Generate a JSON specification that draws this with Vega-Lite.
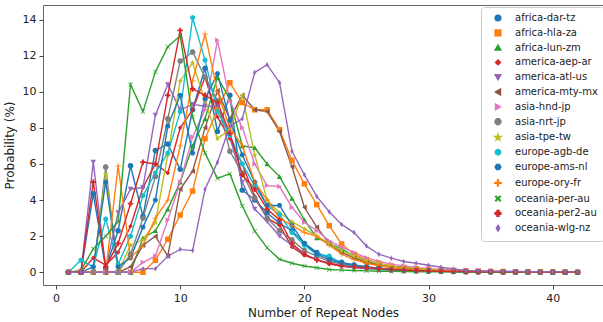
{
"$schema":"https://vega.github.io/schema/vega-lite/v6.json",
"width":560,"height":280,
"autosize":{"type":"none"},
"padding":{"left":43,"top":5,"right":0,"bottom":37},
"data":{"values":[
{"s":"africa-dar-tz","x":1,"y":0},{"s":"africa-dar-tz","x":2,"y":0},{"s":"africa-dar-tz","x":3,"y":4.35},{"s":"africa-dar-tz","x":4,"y":0.2},{"s":"africa-dar-tz","x":5,"y":2.3},{"s":"africa-dar-tz","x":6,"y":5.9},{"s":"africa-dar-tz","x":7,"y":3.1},{"s":"africa-dar-tz","x":8,"y":6.75},{"s":"africa-dar-tz","x":9,"y":7.1},{"s":"africa-dar-tz","x":10,"y":5.7},{"s":"africa-dar-tz","x":11,"y":9.0},{"s":"africa-dar-tz","x":12,"y":11.3},{"s":"africa-dar-tz","x":13,"y":7.8},{"s":"africa-dar-tz","x":14,"y":9.8},{"s":"africa-dar-tz","x":15,"y":4.55},{"s":"africa-dar-tz","x":16,"y":4.0},{"s":"africa-dar-tz","x":17,"y":3.3},{"s":"africa-dar-tz","x":18,"y":2.7},{"s":"africa-dar-tz","x":19,"y":2.3},{"s":"africa-dar-tz","x":20,"y":1.6},{"s":"africa-dar-tz","x":21,"y":1.1},{"s":"africa-dar-tz","x":22,"y":0.8},{"s":"africa-dar-tz","x":23,"y":0.55},{"s":"africa-dar-tz","x":24,"y":0.4},{"s":"africa-dar-tz","x":25,"y":0.3},{"s":"africa-dar-tz","x":26,"y":0.22},{"s":"africa-dar-tz","x":27,"y":0.17},{"s":"africa-dar-tz","x":28,"y":0.13},{"s":"africa-dar-tz","x":29,"y":0.1},{"s":"africa-dar-tz","x":30,"y":0.08},{"s":"africa-dar-tz","x":31,"y":0.06},{"s":"africa-dar-tz","x":32,"y":0.05},{"s":"africa-dar-tz","x":33,"y":0.04},{"s":"africa-dar-tz","x":34,"y":0.03},{"s":"africa-dar-tz","x":35,"y":0.03},{"s":"africa-dar-tz","x":36,"y":0.02},{"s":"africa-dar-tz","x":37,"y":0.02},{"s":"africa-dar-tz","x":38,"y":0.01},{"s":"africa-dar-tz","x":39,"y":0.01},{"s":"africa-dar-tz","x":40,"y":0.01},{"s":"africa-dar-tz","x":41,"y":0},{"s":"africa-dar-tz","x":42,"y":0},
{"s":"africa-hla-za","x":1,"y":0},{"s":"africa-hla-za","x":2,"y":0},{"s":"africa-hla-za","x":3,"y":0},{"s":"africa-hla-za","x":4,"y":0},{"s":"africa-hla-za","x":5,"y":0},{"s":"africa-hla-za","x":6,"y":0},{"s":"africa-hla-za","x":7,"y":0},{"s":"africa-hla-za","x":8,"y":0.67},{"s":"africa-hla-za","x":9,"y":1.83},{"s":"africa-hla-za","x":10,"y":3.17},{"s":"africa-hla-za","x":11,"y":4.5},{"s":"africa-hla-za","x":12,"y":7.4},{"s":"africa-hla-za","x":13,"y":9.0},{"s":"africa-hla-za","x":14,"y":10.5},{"s":"africa-hla-za","x":15,"y":9.4},{"s":"africa-hla-za","x":16,"y":9.0},{"s":"africa-hla-za","x":17,"y":9.0},{"s":"africa-hla-za","x":18,"y":7.9},{"s":"africa-hla-za","x":19,"y":6.2},{"s":"africa-hla-za","x":20,"y":4.9},{"s":"africa-hla-za","x":21,"y":3.75},{"s":"africa-hla-za","x":22,"y":2.58},{"s":"africa-hla-za","x":23,"y":1.57},{"s":"africa-hla-za","x":24,"y":1.0},{"s":"africa-hla-za","x":25,"y":0.7},{"s":"africa-hla-za","x":26,"y":0.5},{"s":"africa-hla-za","x":27,"y":0.35},{"s":"africa-hla-za","x":28,"y":0.27},{"s":"africa-hla-za","x":29,"y":0.2},{"s":"africa-hla-za","x":30,"y":0.15},{"s":"africa-hla-za","x":31,"y":0.12},{"s":"africa-hla-za","x":32,"y":0.1},{"s":"africa-hla-za","x":33,"y":0.08},{"s":"africa-hla-za","x":34,"y":0.06},{"s":"africa-hla-za","x":35,"y":0.05},{"s":"africa-hla-za","x":36,"y":0.04},{"s":"africa-hla-za","x":37,"y":0.03},{"s":"africa-hla-za","x":38,"y":0.02},{"s":"africa-hla-za","x":39,"y":0.02},{"s":"africa-hla-za","x":40,"y":0.01},{"s":"africa-hla-za","x":41,"y":0.01},{"s":"africa-hla-za","x":42,"y":0},
{"s":"africa-lun-zm","x":1,"y":0},{"s":"africa-lun-zm","x":2,"y":0},{"s":"africa-lun-zm","x":3,"y":0},{"s":"africa-lun-zm","x":4,"y":0},{"s":"africa-lun-zm","x":5,"y":0},{"s":"africa-lun-zm","x":6,"y":0},{"s":"africa-lun-zm","x":7,"y":1.9},{"s":"africa-lun-zm","x":8,"y":2.3},{"s":"africa-lun-zm","x":9,"y":3.5},{"s":"africa-lun-zm","x":10,"y":5.0},{"s":"africa-lun-zm","x":11,"y":7.0},{"s":"africa-lun-zm","x":12,"y":8.5},{"s":"africa-lun-zm","x":13,"y":10.8},{"s":"africa-lun-zm","x":14,"y":9.6},{"s":"africa-lun-zm","x":15,"y":7.0},{"s":"africa-lun-zm","x":16,"y":6.9},{"s":"africa-lun-zm","x":17,"y":6.0},{"s":"africa-lun-zm","x":18,"y":5.3},{"s":"africa-lun-zm","x":19,"y":4.1},{"s":"africa-lun-zm","x":20,"y":2.9},{"s":"africa-lun-zm","x":21,"y":1.9},{"s":"africa-lun-zm","x":22,"y":1.6},{"s":"africa-lun-zm","x":23,"y":1.3},{"s":"africa-lun-zm","x":24,"y":0.9},{"s":"africa-lun-zm","x":25,"y":0.6},{"s":"africa-lun-zm","x":26,"y":0.45},{"s":"africa-lun-zm","x":27,"y":0.33},{"s":"africa-lun-zm","x":28,"y":0.25},{"s":"africa-lun-zm","x":29,"y":0.2},{"s":"africa-lun-zm","x":30,"y":0.15},{"s":"africa-lun-zm","x":31,"y":0.12},{"s":"africa-lun-zm","x":32,"y":0.1},{"s":"africa-lun-zm","x":33,"y":0.08},{"s":"africa-lun-zm","x":34,"y":0.06},{"s":"africa-lun-zm","x":35,"y":0.05},{"s":"africa-lun-zm","x":36,"y":0.04},{"s":"africa-lun-zm","x":37,"y":0.03},{"s":"africa-lun-zm","x":38,"y":0.02},{"s":"africa-lun-zm","x":39,"y":0.02},{"s":"africa-lun-zm","x":40,"y":0.01},{"s":"africa-lun-zm","x":41,"y":0.01},{"s":"africa-lun-zm","x":42,"y":0},
{"s":"america-aep-ar","x":1,"y":0},{"s":"america-aep-ar","x":2,"y":0},{"s":"america-aep-ar","x":3,"y":0.8},{"s":"america-aep-ar","x":4,"y":0.4},{"s":"america-aep-ar","x":5,"y":1.1},{"s":"america-aep-ar","x":6,"y":2.55},{"s":"america-aep-ar","x":7,"y":4.7},{"s":"america-aep-ar","x":8,"y":6.0},{"s":"america-aep-ar","x":9,"y":5.5},{"s":"america-aep-ar","x":10,"y":8.0},{"s":"america-aep-ar","x":11,"y":9.0},{"s":"america-aep-ar","x":12,"y":10.8},{"s":"america-aep-ar","x":13,"y":8.6},{"s":"america-aep-ar","x":14,"y":7.4},{"s":"america-aep-ar","x":15,"y":6.0},{"s":"america-aep-ar","x":16,"y":4.2},{"s":"america-aep-ar","x":17,"y":3.0},{"s":"america-aep-ar","x":18,"y":2.6},{"s":"america-aep-ar","x":19,"y":1.4},{"s":"america-aep-ar","x":20,"y":0.94},{"s":"america-aep-ar","x":21,"y":0.7},{"s":"america-aep-ar","x":22,"y":0.45},{"s":"america-aep-ar","x":23,"y":0.35},{"s":"america-aep-ar","x":24,"y":0.28},{"s":"america-aep-ar","x":25,"y":0.22},{"s":"america-aep-ar","x":26,"y":0.17},{"s":"america-aep-ar","x":27,"y":0.13},{"s":"america-aep-ar","x":28,"y":0.1},{"s":"america-aep-ar","x":29,"y":0.08},{"s":"america-aep-ar","x":30,"y":0.06},{"s":"america-aep-ar","x":31,"y":0.05},{"s":"america-aep-ar","x":32,"y":0.04},{"s":"america-aep-ar","x":33,"y":0.03},{"s":"america-aep-ar","x":34,"y":0.03},{"s":"america-aep-ar","x":35,"y":0.02},{"s":"america-aep-ar","x":36,"y":0.02},{"s":"america-aep-ar","x":37,"y":0.01},{"s":"america-aep-ar","x":38,"y":0.01},{"s":"america-aep-ar","x":39,"y":0.01},{"s":"america-aep-ar","x":40,"y":0},{"s":"america-aep-ar","x":41,"y":0},{"s":"america-aep-ar","x":42,"y":0},
{"s":"america-atl-us","x":1,"y":0},{"s":"america-atl-us","x":2,"y":0},{"s":"america-atl-us","x":3,"y":6.1},{"s":"america-atl-us","x":4,"y":0.2},{"s":"america-atl-us","x":5,"y":3.3},{"s":"america-atl-us","x":6,"y":4.6},{"s":"america-atl-us","x":7,"y":4.7},{"s":"america-atl-us","x":8,"y":8.7},{"s":"america-atl-us","x":9,"y":10.4},{"s":"america-atl-us","x":10,"y":9.0},{"s":"america-atl-us","x":11,"y":9.3},{"s":"america-atl-us","x":12,"y":9.2},{"s":"america-atl-us","x":13,"y":9.2},{"s":"america-atl-us","x":14,"y":7.5},{"s":"america-atl-us","x":15,"y":5.0},{"s":"america-atl-us","x":16,"y":3.5},{"s":"america-atl-us","x":17,"y":2.8},{"s":"america-atl-us","x":18,"y":2.0},{"s":"america-atl-us","x":19,"y":1.5},{"s":"america-atl-us","x":20,"y":1.0},{"s":"america-atl-us","x":21,"y":0.7},{"s":"america-atl-us","x":22,"y":0.5},{"s":"america-atl-us","x":23,"y":0.35},{"s":"america-atl-us","x":24,"y":0.25},{"s":"america-atl-us","x":25,"y":0.2},{"s":"america-atl-us","x":26,"y":0.15},{"s":"america-atl-us","x":27,"y":0.12},{"s":"america-atl-us","x":28,"y":0.1},{"s":"america-atl-us","x":29,"y":0.08},{"s":"america-atl-us","x":30,"y":0.06},{"s":"america-atl-us","x":31,"y":0.05},{"s":"america-atl-us","x":32,"y":0.04},{"s":"america-atl-us","x":33,"y":0.03},{"s":"america-atl-us","x":34,"y":0.02},{"s":"america-atl-us","x":35,"y":0.02},{"s":"america-atl-us","x":36,"y":0.01},{"s":"america-atl-us","x":37,"y":0.01},{"s":"america-atl-us","x":38,"y":0.01},{"s":"america-atl-us","x":39,"y":0},{"s":"america-atl-us","x":40,"y":0},{"s":"america-atl-us","x":41,"y":0},{"s":"america-atl-us","x":42,"y":0},
{"s":"america-mty-mx","x":1,"y":0},{"s":"america-mty-mx","x":2,"y":0},{"s":"america-mty-mx","x":3,"y":0},{"s":"america-mty-mx","x":4,"y":0},{"s":"america-mty-mx","x":5,"y":0},{"s":"america-mty-mx","x":6,"y":0.3},{"s":"america-mty-mx","x":7,"y":1.5},{"s":"america-mty-mx","x":8,"y":2.0},{"s":"america-mty-mx","x":9,"y":0.9},{"s":"america-mty-mx","x":10,"y":4.6},{"s":"america-mty-mx","x":11,"y":5.6},{"s":"america-mty-mx","x":12,"y":8.0},{"s":"america-mty-mx","x":13,"y":10.05},{"s":"america-mty-mx","x":14,"y":8.5},{"s":"america-mty-mx","x":15,"y":9.8},{"s":"america-mty-mx","x":16,"y":9.0},{"s":"america-mty-mx","x":17,"y":8.9},{"s":"america-mty-mx","x":18,"y":7.8},{"s":"america-mty-mx","x":19,"y":5.85},{"s":"america-mty-mx","x":20,"y":3.6},{"s":"america-mty-mx","x":21,"y":2.5},{"s":"america-mty-mx","x":22,"y":1.6},{"s":"america-mty-mx","x":23,"y":1.1},{"s":"america-mty-mx","x":24,"y":0.8},{"s":"america-mty-mx","x":25,"y":0.55},{"s":"america-mty-mx","x":26,"y":0.38},{"s":"america-mty-mx","x":27,"y":0.27},{"s":"america-mty-mx","x":28,"y":0.2},{"s":"america-mty-mx","x":29,"y":0.15},{"s":"america-mty-mx","x":30,"y":0.11},{"s":"america-mty-mx","x":31,"y":0.09},{"s":"america-mty-mx","x":32,"y":0.07},{"s":"america-mty-mx","x":33,"y":0.05},{"s":"america-mty-mx","x":34,"y":0.04},{"s":"america-mty-mx","x":35,"y":0.03},{"s":"america-mty-mx","x":36,"y":0.02},{"s":"america-mty-mx","x":37,"y":0.02},{"s":"america-mty-mx","x":38,"y":0.01},{"s":"america-mty-mx","x":39,"y":0.01},{"s":"america-mty-mx","x":40,"y":0.01},{"s":"america-mty-mx","x":41,"y":0},{"s":"america-mty-mx","x":42,"y":0},
{"s":"asia-hnd-jp","x":1,"y":0},{"s":"asia-hnd-jp","x":2,"y":0},{"s":"asia-hnd-jp","x":3,"y":0},{"s":"asia-hnd-jp","x":4,"y":0},{"s":"asia-hnd-jp","x":5,"y":0},{"s":"asia-hnd-jp","x":6,"y":0},{"s":"asia-hnd-jp","x":7,"y":0.55},{"s":"asia-hnd-jp","x":8,"y":0.9},{"s":"asia-hnd-jp","x":9,"y":2.9},{"s":"asia-hnd-jp","x":10,"y":5.0},{"s":"asia-hnd-jp","x":11,"y":7.5},{"s":"asia-hnd-jp","x":12,"y":9.0},{"s":"asia-hnd-jp","x":13,"y":12.85},{"s":"asia-hnd-jp","x":14,"y":9.5},{"s":"asia-hnd-jp","x":15,"y":8.0},{"s":"asia-hnd-jp","x":16,"y":6.0},{"s":"asia-hnd-jp","x":17,"y":4.8},{"s":"asia-hnd-jp","x":18,"y":4.75},{"s":"asia-hnd-jp","x":19,"y":3.6},{"s":"asia-hnd-jp","x":20,"y":2.77},{"s":"asia-hnd-jp","x":21,"y":2.3},{"s":"asia-hnd-jp","x":22,"y":1.75},{"s":"asia-hnd-jp","x":23,"y":1.4},{"s":"asia-hnd-jp","x":24,"y":1.1},{"s":"asia-hnd-jp","x":25,"y":0.8},{"s":"asia-hnd-jp","x":26,"y":0.6},{"s":"asia-hnd-jp","x":27,"y":0.45},{"s":"asia-hnd-jp","x":28,"y":0.35},{"s":"asia-hnd-jp","x":29,"y":0.27},{"s":"asia-hnd-jp","x":30,"y":0.2},{"s":"asia-hnd-jp","x":31,"y":0.16},{"s":"asia-hnd-jp","x":32,"y":0.13},{"s":"asia-hnd-jp","x":33,"y":0.1},{"s":"asia-hnd-jp","x":34,"y":0.08},{"s":"asia-hnd-jp","x":35,"y":0.06},{"s":"asia-hnd-jp","x":36,"y":0.05},{"s":"asia-hnd-jp","x":37,"y":0.04},{"s":"asia-hnd-jp","x":38,"y":0.03},{"s":"asia-hnd-jp","x":39,"y":0.02},{"s":"asia-hnd-jp","x":40,"y":0.02},{"s":"asia-hnd-jp","x":41,"y":0.01},{"s":"asia-hnd-jp","x":42,"y":0.01},
{"s":"asia-nrt-jp","x":1,"y":0},{"s":"asia-nrt-jp","x":2,"y":0},{"s":"asia-nrt-jp","x":3,"y":0},{"s":"asia-nrt-jp","x":4,"y":5.83},{"s":"asia-nrt-jp","x":5,"y":0},{"s":"asia-nrt-jp","x":6,"y":1.0},{"s":"asia-nrt-jp","x":7,"y":3.0},{"s":"asia-nrt-jp","x":8,"y":5.3},{"s":"asia-nrt-jp","x":9,"y":8.5},{"s":"asia-nrt-jp","x":10,"y":11.7},{"s":"asia-nrt-jp","x":11,"y":12.2},{"s":"asia-nrt-jp","x":12,"y":10.8},{"s":"asia-nrt-jp","x":13,"y":9.5},{"s":"asia-nrt-jp","x":14,"y":6.7},{"s":"asia-nrt-jp","x":15,"y":5.5},{"s":"asia-nrt-jp","x":16,"y":4.1},{"s":"asia-nrt-jp","x":17,"y":3.0},{"s":"asia-nrt-jp","x":18,"y":2.3},{"s":"asia-nrt-jp","x":19,"y":1.8},{"s":"asia-nrt-jp","x":20,"y":1.2},{"s":"asia-nrt-jp","x":21,"y":0.9},{"s":"asia-nrt-jp","x":22,"y":0.6},{"s":"asia-nrt-jp","x":23,"y":0.45},{"s":"asia-nrt-jp","x":24,"y":0.33},{"s":"asia-nrt-jp","x":25,"y":0.25},{"s":"asia-nrt-jp","x":26,"y":0.18},{"s":"asia-nrt-jp","x":27,"y":0.13},{"s":"asia-nrt-jp","x":28,"y":0.1},{"s":"asia-nrt-jp","x":29,"y":0.08},{"s":"asia-nrt-jp","x":30,"y":0.06},{"s":"asia-nrt-jp","x":31,"y":0.05},{"s":"asia-nrt-jp","x":32,"y":0.04},{"s":"asia-nrt-jp","x":33,"y":0.03},{"s":"asia-nrt-jp","x":34,"y":0.02},{"s":"asia-nrt-jp","x":35,"y":0.02},{"s":"asia-nrt-jp","x":36,"y":0.01},{"s":"asia-nrt-jp","x":37,"y":0.01},{"s":"asia-nrt-jp","x":38,"y":0.01},{"s":"asia-nrt-jp","x":39,"y":0},{"s":"asia-nrt-jp","x":40,"y":0},{"s":"asia-nrt-jp","x":41,"y":0},{"s":"asia-nrt-jp","x":42,"y":0},
{"s":"asia-tpe-tw","x":1,"y":0},{"s":"asia-tpe-tw","x":2,"y":0},{"s":"asia-tpe-tw","x":3,"y":0},{"s":"asia-tpe-tw","x":4,"y":5.45},{"s":"asia-tpe-tw","x":5,"y":0},{"s":"asia-tpe-tw","x":6,"y":1.5},{"s":"asia-tpe-tw","x":7,"y":1.8},{"s":"asia-tpe-tw","x":8,"y":2.75},{"s":"asia-tpe-tw","x":9,"y":6.5},{"s":"asia-tpe-tw","x":10,"y":10.6},{"s":"asia-tpe-tw","x":11,"y":11.6},{"s":"asia-tpe-tw","x":12,"y":9.5},{"s":"asia-tpe-tw","x":13,"y":7.4},{"s":"asia-tpe-tw","x":14,"y":7.9},{"s":"asia-tpe-tw","x":15,"y":9.8},{"s":"asia-tpe-tw","x":16,"y":6.5},{"s":"asia-tpe-tw","x":17,"y":4.0},{"s":"asia-tpe-tw","x":18,"y":3.3},{"s":"asia-tpe-tw","x":19,"y":2.8},{"s":"asia-tpe-tw","x":20,"y":2.4},{"s":"asia-tpe-tw","x":21,"y":2.0},{"s":"asia-tpe-tw","x":22,"y":1.6},{"s":"asia-tpe-tw","x":23,"y":1.2},{"s":"asia-tpe-tw","x":24,"y":0.9},{"s":"asia-tpe-tw","x":25,"y":0.65},{"s":"asia-tpe-tw","x":26,"y":0.48},{"s":"asia-tpe-tw","x":27,"y":0.35},{"s":"asia-tpe-tw","x":28,"y":0.26},{"s":"asia-tpe-tw","x":29,"y":0.2},{"s":"asia-tpe-tw","x":30,"y":0.15},{"s":"asia-tpe-tw","x":31,"y":0.12},{"s":"asia-tpe-tw","x":32,"y":0.09},{"s":"asia-tpe-tw","x":33,"y":0.07},{"s":"asia-tpe-tw","x":34,"y":0.05},{"s":"asia-tpe-tw","x":35,"y":0.04},{"s":"asia-tpe-tw","x":36,"y":0.03},{"s":"asia-tpe-tw","x":37,"y":0.02},{"s":"asia-tpe-tw","x":38,"y":0.02},{"s":"asia-tpe-tw","x":39,"y":0.01},{"s":"asia-tpe-tw","x":40,"y":0.01},{"s":"asia-tpe-tw","x":41,"y":0.01},{"s":"asia-tpe-tw","x":42,"y":0},
{"s":"europe-agb-de","x":1,"y":0},{"s":"europe-agb-de","x":2,"y":0.67},{"s":"europe-agb-de","x":3,"y":0.3},{"s":"europe-agb-de","x":4,"y":2.95},{"s":"europe-agb-de","x":5,"y":0.44},{"s":"europe-agb-de","x":6,"y":2.0},{"s":"europe-agb-de","x":7,"y":4.25},{"s":"europe-agb-de","x":8,"y":5.5},{"s":"europe-agb-de","x":9,"y":6.6},{"s":"europe-agb-de","x":10,"y":8.9},{"s":"europe-agb-de","x":11,"y":14.1},{"s":"europe-agb-de","x":12,"y":11.75},{"s":"europe-agb-de","x":13,"y":8.9},{"s":"europe-agb-de","x":14,"y":7.6},{"s":"europe-agb-de","x":15,"y":6.0},{"s":"europe-agb-de","x":16,"y":4.8},{"s":"europe-agb-de","x":17,"y":3.7},{"s":"europe-agb-de","x":18,"y":3.2},{"s":"europe-agb-de","x":19,"y":2.2},{"s":"europe-agb-de","x":20,"y":1.5},{"s":"europe-agb-de","x":21,"y":1.0},{"s":"europe-agb-de","x":22,"y":0.9},{"s":"europe-agb-de","x":23,"y":0.5},{"s":"europe-agb-de","x":24,"y":0.35},{"s":"europe-agb-de","x":25,"y":0.25},{"s":"europe-agb-de","x":26,"y":0.18},{"s":"europe-agb-de","x":27,"y":0.13},{"s":"europe-agb-de","x":28,"y":0.1},{"s":"europe-agb-de","x":29,"y":0.08},{"s":"europe-agb-de","x":30,"y":0.06},{"s":"europe-agb-de","x":31,"y":0.05},{"s":"europe-agb-de","x":32,"y":0.04},{"s":"europe-agb-de","x":33,"y":0.03},{"s":"europe-agb-de","x":34,"y":0.02},{"s":"europe-agb-de","x":35,"y":0.02},{"s":"europe-agb-de","x":36,"y":0.01},{"s":"europe-agb-de","x":37,"y":0.01},{"s":"europe-agb-de","x":38,"y":0.01},{"s":"europe-agb-de","x":39,"y":0},{"s":"europe-agb-de","x":40,"y":0},{"s":"europe-agb-de","x":41,"y":0},{"s":"europe-agb-de","x":42,"y":0},
{"s":"europe-ams-nl","x":1,"y":0},{"s":"europe-ams-nl","x":2,"y":0},{"s":"europe-ams-nl","x":3,"y":0.3},{"s":"europe-ams-nl","x":4,"y":5.0},{"s":"europe-ams-nl","x":5,"y":0.3},{"s":"europe-ams-nl","x":6,"y":0.8},{"s":"europe-ams-nl","x":7,"y":2.5},{"s":"europe-ams-nl","x":8,"y":4.0},{"s":"europe-ams-nl","x":9,"y":8.1},{"s":"europe-ams-nl","x":10,"y":9.8},{"s":"europe-ams-nl","x":11,"y":6.6},{"s":"europe-ams-nl","x":12,"y":9.6},{"s":"europe-ams-nl","x":13,"y":11.0},{"s":"europe-ams-nl","x":14,"y":8.4},{"s":"europe-ams-nl","x":15,"y":6.5},{"s":"europe-ams-nl","x":16,"y":5.0},{"s":"europe-ams-nl","x":17,"y":3.7},{"s":"europe-ams-nl","x":18,"y":3.7},{"s":"europe-ams-nl","x":19,"y":2.6},{"s":"europe-ams-nl","x":20,"y":1.6},{"s":"europe-ams-nl","x":21,"y":1.0},{"s":"europe-ams-nl","x":22,"y":0.7},{"s":"europe-ams-nl","x":23,"y":0.5},{"s":"europe-ams-nl","x":24,"y":0.4},{"s":"europe-ams-nl","x":25,"y":0.3},{"s":"europe-ams-nl","x":26,"y":0.22},{"s":"europe-ams-nl","x":27,"y":0.16},{"s":"europe-ams-nl","x":28,"y":0.12},{"s":"europe-ams-nl","x":29,"y":0.1},{"s":"europe-ams-nl","x":30,"y":0.08},{"s":"europe-ams-nl","x":31,"y":0.06},{"s":"europe-ams-nl","x":32,"y":0.05},{"s":"europe-ams-nl","x":33,"y":0.04},{"s":"europe-ams-nl","x":34,"y":0.03},{"s":"europe-ams-nl","x":35,"y":0.02},{"s":"europe-ams-nl","x":36,"y":0.02},{"s":"europe-ams-nl","x":37,"y":0.01},{"s":"europe-ams-nl","x":38,"y":0.01},{"s":"europe-ams-nl","x":39,"y":0.01},{"s":"europe-ams-nl","x":40,"y":0},{"s":"europe-ams-nl","x":41,"y":0},{"s":"europe-ams-nl","x":42,"y":0},
{"s":"europe-ory-fr","x":1,"y":0},{"s":"europe-ory-fr","x":2,"y":0},{"s":"europe-ory-fr","x":3,"y":0},{"s":"europe-ory-fr","x":4,"y":0},{"s":"europe-ory-fr","x":5,"y":5.9},{"s":"europe-ory-fr","x":6,"y":0.8},{"s":"europe-ory-fr","x":7,"y":1.5},{"s":"europe-ory-fr","x":8,"y":3.0},{"s":"europe-ory-fr","x":9,"y":4.0},{"s":"europe-ory-fr","x":10,"y":7.0},{"s":"europe-ory-fr","x":11,"y":10.6},{"s":"europe-ory-fr","x":12,"y":13.2},{"s":"europe-ory-fr","x":13,"y":10.0},{"s":"europe-ory-fr","x":14,"y":8.0},{"s":"europe-ory-fr","x":15,"y":7.0},{"s":"europe-ory-fr","x":16,"y":5.0},{"s":"europe-ory-fr","x":17,"y":4.0},{"s":"europe-ory-fr","x":18,"y":3.0},{"s":"europe-ory-fr","x":19,"y":2.6},{"s":"europe-ory-fr","x":20,"y":2.2},{"s":"europe-ory-fr","x":21,"y":2.0},{"s":"europe-ory-fr","x":22,"y":1.5},{"s":"europe-ory-fr","x":23,"y":1.0},{"s":"europe-ory-fr","x":24,"y":0.7},{"s":"europe-ory-fr","x":25,"y":0.5},{"s":"europe-ory-fr","x":26,"y":0.36},{"s":"europe-ory-fr","x":27,"y":0.27},{"s":"europe-ory-fr","x":28,"y":0.2},{"s":"europe-ory-fr","x":29,"y":0.15},{"s":"europe-ory-fr","x":30,"y":0.11},{"s":"europe-ory-fr","x":31,"y":0.09},{"s":"europe-ory-fr","x":32,"y":0.07},{"s":"europe-ory-fr","x":33,"y":0.05},{"s":"europe-ory-fr","x":34,"y":0.04},{"s":"europe-ory-fr","x":35,"y":0.03},{"s":"europe-ory-fr","x":36,"y":0.02},{"s":"europe-ory-fr","x":37,"y":0.02},{"s":"europe-ory-fr","x":38,"y":0.01},{"s":"europe-ory-fr","x":39,"y":0.01},{"s":"europe-ory-fr","x":40,"y":0.01},{"s":"europe-ory-fr","x":41,"y":0},{"s":"europe-ory-fr","x":42,"y":0},
{"s":"oceania-per-au","x":1,"y":0},{"s":"oceania-per-au","x":2,"y":0.1},{"s":"oceania-per-au","x":3,"y":1.3},{"s":"oceania-per-au","x":4,"y":2.0},{"s":"oceania-per-au","x":5,"y":2.8},{"s":"oceania-per-au","x":6,"y":10.4},{"s":"oceania-per-au","x":7,"y":8.9},{"s":"oceania-per-au","x":8,"y":11.1},{"s":"oceania-per-au","x":9,"y":12.5},{"s":"oceania-per-au","x":10,"y":13.1},{"s":"oceania-per-au","x":11,"y":8.6},{"s":"oceania-per-au","x":12,"y":6.6},{"s":"oceania-per-au","x":13,"y":5.2},{"s":"oceania-per-au","x":14,"y":5.46},{"s":"oceania-per-au","x":15,"y":3.67},{"s":"oceania-per-au","x":16,"y":2.28},{"s":"oceania-per-au","x":17,"y":1.35},{"s":"oceania-per-au","x":18,"y":0.72},{"s":"oceania-per-au","x":19,"y":0.5},{"s":"oceania-per-au","x":20,"y":0.35},{"s":"oceania-per-au","x":21,"y":0.25},{"s":"oceania-per-au","x":22,"y":0.15},{"s":"oceania-per-au","x":23,"y":0.12},{"s":"oceania-per-au","x":24,"y":0.1},{"s":"oceania-per-au","x":25,"y":0.08},{"s":"oceania-per-au","x":26,"y":0.06},{"s":"oceania-per-au","x":27,"y":0.05},{"s":"oceania-per-au","x":28,"y":0.04},{"s":"oceania-per-au","x":29,"y":0.03},{"s":"oceania-per-au","x":30,"y":0.03},{"s":"oceania-per-au","x":31,"y":0.02},{"s":"oceania-per-au","x":32,"y":0.02},{"s":"oceania-per-au","x":33,"y":0.01},{"s":"oceania-per-au","x":34,"y":0.01},{"s":"oceania-per-au","x":35,"y":0.01},{"s":"oceania-per-au","x":36,"y":0.01},{"s":"oceania-per-au","x":37,"y":0},{"s":"oceania-per-au","x":38,"y":0},{"s":"oceania-per-au","x":39,"y":0},{"s":"oceania-per-au","x":40,"y":0},{"s":"oceania-per-au","x":41,"y":0},{"s":"oceania-per-au","x":42,"y":0},
{"s":"oceania-per2-au","x":1,"y":0},{"s":"oceania-per2-au","x":2,"y":0},{"s":"oceania-per2-au","x":3,"y":5.0},{"s":"oceania-per2-au","x":4,"y":0.3},{"s":"oceania-per2-au","x":5,"y":1.6},{"s":"oceania-per2-au","x":6,"y":3.8},{"s":"oceania-per2-au","x":7,"y":6.1},{"s":"oceania-per2-au","x":8,"y":6.0},{"s":"oceania-per2-au","x":9,"y":9.8},{"s":"oceania-per2-au","x":10,"y":13.4},{"s":"oceania-per2-au","x":11,"y":10.15},{"s":"oceania-per2-au","x":12,"y":9.8},{"s":"oceania-per2-au","x":13,"y":9.4},{"s":"oceania-per2-au","x":14,"y":7.7},{"s":"oceania-per2-au","x":15,"y":5.4},{"s":"oceania-per2-au","x":16,"y":4.6},{"s":"oceania-per2-au","x":17,"y":3.5},{"s":"oceania-per2-au","x":18,"y":2.9},{"s":"oceania-per2-au","x":19,"y":1.6},{"s":"oceania-per2-au","x":20,"y":1.0},{"s":"oceania-per2-au","x":21,"y":0.67},{"s":"oceania-per2-au","x":22,"y":0.5},{"s":"oceania-per2-au","x":23,"y":0.35},{"s":"oceania-per2-au","x":24,"y":0.3},{"s":"oceania-per2-au","x":25,"y":0.25},{"s":"oceania-per2-au","x":26,"y":0.2},{"s":"oceania-per2-au","x":27,"y":0.15},{"s":"oceania-per2-au","x":28,"y":0.12},{"s":"oceania-per2-au","x":29,"y":0.1},{"s":"oceania-per2-au","x":30,"y":0.08},{"s":"oceania-per2-au","x":31,"y":0.06},{"s":"oceania-per2-au","x":32,"y":0.05},{"s":"oceania-per2-au","x":33,"y":0.04},{"s":"oceania-per2-au","x":34,"y":0.03},{"s":"oceania-per2-au","x":35,"y":0.03},{"s":"oceania-per2-au","x":36,"y":0.02},{"s":"oceania-per2-au","x":37,"y":0.02},{"s":"oceania-per2-au","x":38,"y":0.01},{"s":"oceania-per2-au","x":39,"y":0.01},{"s":"oceania-per2-au","x":40,"y":0.01},{"s":"oceania-per2-au","x":41,"y":0},{"s":"oceania-per2-au","x":42,"y":0},
{"s":"oceania-wlg-nz","x":1,"y":0},{"s":"oceania-wlg-nz","x":2,"y":0},{"s":"oceania-wlg-nz","x":3,"y":0},{"s":"oceania-wlg-nz","x":4,"y":0},{"s":"oceania-wlg-nz","x":5,"y":0},{"s":"oceania-wlg-nz","x":6,"y":0},{"s":"oceania-wlg-nz","x":7,"y":0.2},{"s":"oceania-wlg-nz","x":8,"y":0.2},{"s":"oceania-wlg-nz","x":9,"y":0.89},{"s":"oceania-wlg-nz","x":10,"y":1.27},{"s":"oceania-wlg-nz","x":11,"y":1.2},{"s":"oceania-wlg-nz","x":12,"y":4.6},{"s":"oceania-wlg-nz","x":13,"y":6.1},{"s":"oceania-wlg-nz","x":14,"y":8.1},{"s":"oceania-wlg-nz","x":15,"y":8.5},{"s":"oceania-wlg-nz","x":16,"y":11.07},{"s":"oceania-wlg-nz","x":17,"y":11.5},{"s":"oceania-wlg-nz","x":18,"y":10.5},{"s":"oceania-wlg-nz","x":19,"y":6.7},{"s":"oceania-wlg-nz","x":20,"y":5.4},{"s":"oceania-wlg-nz","x":21,"y":4.2},{"s":"oceania-wlg-nz","x":22,"y":3.35},{"s":"oceania-wlg-nz","x":23,"y":2.65},{"s":"oceania-wlg-nz","x":24,"y":2.2},{"s":"oceania-wlg-nz","x":25,"y":1.45},{"s":"oceania-wlg-nz","x":26,"y":1.0},{"s":"oceania-wlg-nz","x":27,"y":0.78},{"s":"oceania-wlg-nz","x":28,"y":0.6},{"s":"oceania-wlg-nz","x":29,"y":0.5},{"s":"oceania-wlg-nz","x":30,"y":0.39},{"s":"oceania-wlg-nz","x":31,"y":0.28},{"s":"oceania-wlg-nz","x":32,"y":0.18},{"s":"oceania-wlg-nz","x":33,"y":0.1},{"s":"oceania-wlg-nz","x":34,"y":0.08},{"s":"oceania-wlg-nz","x":35,"y":0.06},{"s":"oceania-wlg-nz","x":36,"y":0.05},{"s":"oceania-wlg-nz","x":37,"y":0.04},{"s":"oceania-wlg-nz","x":38,"y":0.03},{"s":"oceania-wlg-nz","x":39,"y":0.03},{"s":"oceania-wlg-nz","x":40,"y":0.02},{"s":"oceania-wlg-nz","x":41,"y":0.02},{"s":"oceania-wlg-nz","x":42,"y":0.01}
]},
"encoding":{
"x":{"field":"x","type":"quantitative","scale":{"domain":[-1.05,44.05],"nice":false,"zero":false},
"axis":{"values":[0,10,20,30,40],"title":"Number of Repeat Nodes","grid":false,"domain":false,"tickSize":4,"tickColor":"#444","labelFontSize":11,"labelColor":"#222","titleFontSize":12,"titleFontWeight":"normal","titleColor":"#222","labelPadding":3,"titlePadding":4,"labelFont":"DejaVu Sans","titleFont":"DejaVu Sans"}},
"y":{"field":"y","type":"quantitative","scale":{"domain":[-0.705,14.805],"nice":false,"zero":false},
"axis":{"values":[0,2,4,6,8,10,12,14],"title":"Probability (%)","grid":false,"domain":false,"tickSize":4,"tickColor":"#444","labelFontSize":11,"labelColor":"#222","titleFontSize":12,"titleFontWeight":"normal","titleColor":"#222","labelPadding":3,"titlePadding":6,"labelFont":"DejaVu Sans","titleFont":"DejaVu Sans"}},
"color":{"field":"s","type":"nominal","title":null,
"scale":{"domain":["africa-dar-tz","africa-hla-za","africa-lun-zm","america-aep-ar","america-atl-us","america-mty-mx","asia-hnd-jp","asia-nrt-jp","asia-tpe-tw","europe-agb-de","europe-ams-nl","europe-ory-fr","oceania-per-au","oceania-per2-au","oceania-wlg-nz"],
"range":["#1f77b4","#ff7f0e","#2ca02c","#d62728","#9467bd","#8c564b","#e377c2","#7f7f7f","#bcbd22","#17becf","#1f77b4","#ff7f0e","#2ca02c","#d62728","#9467bd"]},
"legend":{"orient":"none","legendX":438,"legendY":2,"padding":6,"strokeColor":"#ccc","fillColor":"white","cornerRadius":3,"labelFontSize":10,"labelFont":"DejaVu Sans","labelColor":"#222","symbolSize":32,"rowPadding":2.8,"labelOffset":12,"symbolOffset":6,"labelLimit":200}}
},
"layer":[
{"mark":{"type":"line","strokeWidth":1.4}},
{"mark":{"type":"point","filled":true,"size":30,"opacity":1},
"encoding":{"shape":{"field":"s","type":"nominal","title":null,
"scale":{"domain":["africa-dar-tz","africa-hla-za","africa-lun-zm","america-aep-ar","america-atl-us","america-mty-mx","asia-hnd-jp","asia-nrt-jp","asia-tpe-tw","europe-agb-de","europe-ams-nl","europe-ory-fr","oceania-per-au","oceania-per2-au","oceania-wlg-nz"],
"range":["circle","square","triangle-up","M0,-0.85L0.85,0L0,0.85L-0.85,0Z","triangle-down","triangle-left","triangle-right","M-0.41,-1L0.41,-1L1,-0.41L1,0.41L0.41,1L-0.41,1L-1,0.41L-1,-0.41Z","M0,-1.1L0.26,-0.36L1.05,-0.34L0.42,0.14L0.65,0.89L0,0.44L-0.65,0.89L-0.42,0.14L-1.05,-0.34L-0.26,-0.36Z","M0,-1L0.866,-0.5L0.866,0.5L0,1L-0.866,0.5L-0.866,-0.5Z","M-1,0L-0.5,-0.866L0.5,-0.866L1,0L0.5,0.866L-0.5,0.866Z","M-1.1,-0.14L-0.14,-0.14L-0.14,-1.1L0.14,-1.1L0.14,-0.14L1.1,-0.14L1.1,0.14L0.14,0.14L0.14,1.1L-0.14,1.1L-0.14,0.14L-1.1,0.14Z","M-0.85,-0.68L-0.68,-0.85L0,-0.17L0.68,-0.85L0.85,-0.68L0.17,0L0.85,0.68L0.68,0.85L0,0.17L-0.68,0.85L-0.85,0.68L-0.17,0Z","M-1,-0.34L-0.34,-0.34L-0.34,-1L0.34,-1L0.34,-0.34L1,-0.34L1,0.34L0.34,0.34L0.34,1L-0.34,1L-0.34,0.34L-1,0.34Z","M0,-1L0.6,0L0,1L-0.6,0Z"]}}}}
],
"config":{"view":{"stroke":"#666","strokeWidth":1},"font":"DejaVu Sans"}
}
